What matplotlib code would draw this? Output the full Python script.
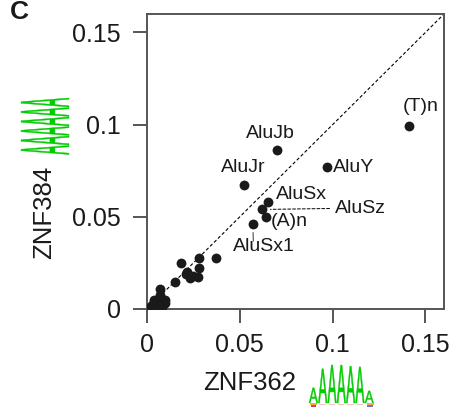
import matplotlib
matplotlib.use("Agg")
import matplotlib.pyplot as plt
from matplotlib.textpath import TextPath
from matplotlib.font_manager import FontProperties
from matplotlib.patches import PathPatch, Rectangle
from matplotlib.path import Path

plt.rcParams['font.family'] = ['Liberation Sans', 'DejaVu Sans']

# repeat families that get a label
named = ['(T)n', 'AluY', 'AluJb', 'AluJr', 'AluSx', 'AluSz', '(A)n', 'AluSx1']
named_x = [0.141, 0.097, 0.070, 0.052, 0.065, 0.062, 0.064, 0.057]
named_y = [0.099, 0.077, 0.086, 0.067, 0.058, 0.054, 0.050, 0.046]

# the rest, mostly near the origin
other_x = [0.0182, 0.0282, 0.0371, 0.0214, 0.0282, 0.0277, 0.0232, 0.0210, 0.0250,
           0.0152, 0.0071, 0.0071, 0.0036, 0.0098, 0.0027, 0.0060, 0.0098, 0.0018,
           0.0054, 0.0040, 0.0080]
other_y = [0.0251, 0.0275, 0.0275, 0.0202, 0.0220, 0.0175, 0.0166, 0.0190, 0.0180,
           0.0148, 0.0107, 0.0076, 0.0049, 0.0049, 0.0022, 0.0022, 0.0033, 0.0012,
           0.0040, 0.0010, 0.0010]

ticks = [0, 0.05, 0.1, 0.15]
tick_labels = ['0', '0.05', '0.1', '0.15']

# label offsets in pixels (dx, dy, ha)
offsets = {
    '(T)n': (12, 20, 'center'),
    'AluY': (6, 0, 'left'),
    'AluJb': (-7, 17, 'center'),
    'AluJr': (0, 18, 'center'),
    'AluSx': (8, 8, 'left'),
    'AluSz': (73, 1, 'left'),
    '(A)n': (5, -5, 'left'),
    'AluSx1': (11, -22, 'center'),
}

# motif logo letter heights (fraction of full column)
logo_362 = [0.40, 0.90, 1.0, 1.0, 0.97, 0.95, 0.32]
logo_384 = [1.0, 1.0, 1.0, 1.0, 1.0, 1.0]

W, H = 453, 407
gray = '#555555'
green = '#00cc00'
ink = '#1a1a1a'

fig = plt.figure(figsize=(W / 100, H / 100), dpi=100)
ax = fig.add_axes([147 / W, 98 / H, 297 / W, 295 / H])

ax.plot([0, 0.16], [0, 0.16], ls=(0, (3, 2)), color='k', lw=0.8, zorder=1)
ax.scatter(other_x, other_y, s=50, color=ink, linewidths=0, zorder=3)
ax.scatter(named_x, named_y, s=50, color=ink, linewidths=0, zorder=3)

for name, x, y in zip(named, named_x, named_y):
    dx, dy, ha = offsets[name]
    props = None
    if name == 'AluSz':
        props = dict(arrowstyle='-', linestyle=(0, (3, 2)), lw=0.7, color='k',
                     relpos=(0, 0.5), shrinkA=2, shrinkB=6)
    ax.annotate(name, (x, y), xytext=(dx, dy), textcoords='offset pixels',
                ha=ha, va='center', fontsize=14, color=ink, arrowprops=props)
    if name == 'AluSx1':
        # short leader between the point and its label
        ax.annotate('', (x, y), xytext=(0.5, -17), textcoords='offset pixels',
                    arrowprops=dict(arrowstyle='-', lw=0.7, color='#333333',
                                    shrinkA=0, shrinkB=6))

ax.set_xlim(0, 0.16)
ax.set_ylim(0, 0.16)
ax.set_xticks(ticks)
ax.set_xticklabels(tick_labels)
ax.set_yticks(ticks)
ax.set_yticklabels(tick_labels)
ax.tick_params(direction='out', length=10, width=1.4, color=gray,
               labelsize=18, labelcolor=ink)
ax.tick_params(axis='x', pad=7)
ax.tick_params(axis='y', pad=9)
for s in ax.spines.values():
    s.set_color(gray)
    s.set_linewidth(1.4)

fig.text(249.7 / W, 1 - 383 / H, 'ZNF362', ha='center', va='center',
         fontsize=18.5, color=ink)
fig.text(44.5 / W, 1 - 212 / H, 'ZNF384', ha='center', va='center',
         fontsize=18.5, rotation=90, color=ink)
fig.text(19 / W, 1 - 12 / H, 'C', ha='center', va='center',
         fontsize=19, fontweight='bold', color=ink)


letter = TextPath((0, 0), 'A', size=1, prop=FontProperties(family='Liberation Sans'))
lb = letter.get_extents()


def draw_a(left, top, right, bottom, sideways=False):
    # box in pixels, measured from the top-left corner of the figure
    u = (letter.vertices[:, 0] - lb.x0) / lb.width
    v = (letter.vertices[:, 1] - lb.y0) / lb.height
    if sideways:
        px = right - v * (right - left)
        py = bottom - u * (bottom - top)
    else:
        px = left + u * (right - left)
        py = bottom - v * (bottom - top)
    verts = list(zip(px / W, 1 - py / H))
    fig.add_artist(PathPatch(Path(verts, letter.codes), transform=fig.transFigure,
                             facecolor=green, edgecolor=green, lw=0.3))


def px_rect(left, top, w, h, color):
    fig.add_artist(Rectangle((left / W, 1 - (top + h) / H), w / W, h / H,
                             transform=fig.transFigure, color=color, lw=0))


# ZNF362 logo under the x axis
for i, hgt in enumerate(logo_362):
    left = 309 + i * 9.3
    draw_a(left, 403 - 38 * hgt, left + 8.8, 403)
px_rect(309.5, 403, 7.5, 2, '#f2b040')
px_rect(310.5, 405, 5, 2, '#d04060')
for i in range(1, 6):
    px_rect(309 + i * 9.3 + 1, 403.5, 6.5, 1.5, '#f6c8c0')
px_rect(366.5, 403, 7.5, 2, '#f2b040')
px_rect(367, 405, 6, 2, '#7070e0')

# ZNF384 logo, letters on their side next to the y label
for i, hgt in enumerate(logo_384):
    top = 98 + i * 9.5
    draw_a(69 - 48 * hgt, top, 69, top + 9.0, sideways=True)

fig.savefig('out.png', dpi=100)
